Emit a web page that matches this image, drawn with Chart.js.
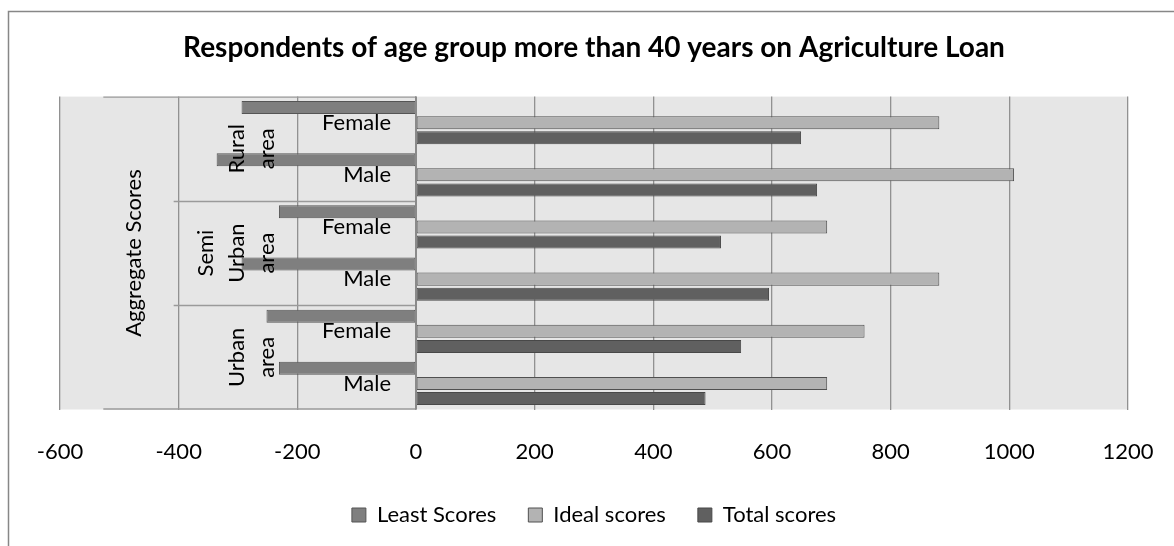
<!DOCTYPE html>
<html>
<head>
<meta charset="utf-8">
<title>Respondents of age group more than 40 years on Agriculture Loan</title>
<script src="https://cdn.jsdelivr.net/npm/chart.js@4.4.1/dist/chart.umd.min.js"></script>
<style>
  html, body { margin: 0; padding: 0; background: #ffffff; }
  #wrap { width: 1174px; height: 546px; position: relative; }
</style>
</head>
<body>
<div id="wrap"><canvas id="chart" width="1174" height="546"></canvas></div>
<script>
// ---- data ----
const chartTitle = 'Respondents of age group more than 40 years on Agriculture Loan';
const categories = ['Female', 'Male', 'Female', 'Male', 'Female', 'Male'];
const areaGroups = [['Rural', 'area'], ['Semi', 'Urban', 'area'], ['Urban', 'area']];
const axisGroupTitle = 'Aggregate Scores';
const seriesNames = ['Least Scores', 'Ideal scores', 'Total scores'];
const leastScores = [-294, -336, -231, -294, -252, -231];
const idealScores = [882, 1008, 693, 882, 756, 693];
const totalScores = [649, 676, 514, 595, 548, 488];
const xTicks = [-600, -400, -200, 0, 200, 400, 600, 800, 1000, 1200];

// ---- styling ----
const FONT = 'Lato';
const fills = ['#7f7f7f', '#b3b3b3', '#606060'];
const edges = ['#555555', '#505050', '#484848'];

// Page frame and grey plot panel behind everything
const framePanel = {
  id: 'framePanel',
  beforeDraw(chart) {
    const { ctx, chartArea: a, width, height } = chart;
    ctx.save();
    ctx.fillStyle = '#ffffff';
    ctx.fillRect(0, 0, width, height);
    ctx.strokeStyle = '#878787';
    ctx.lineWidth = 1.5;
    ctx.beginPath();
    ctx.moveTo(8.5, height);
    ctx.lineTo(8.5, 11.5);
    ctx.lineTo(width, 11.5);
    ctx.stroke();
    ctx.fillStyle = '#e6e6e6';
    ctx.fillRect(a.left, a.top, a.right - a.left, a.bottom - a.top);
    ctx.restore();
  }
};

// Multi-level category labels placed left of the zero line
const categoryLabels = {
  id: 'categoryLabels',
  afterDatasetsDraw(chart) {
    const { ctx, chartArea: a, scales: { x, y } } = chart;
    const x0 = x.getPixelForValue(0);
    ctx.save();

    // bracket lines of the label hierarchy
    ctx.strokeStyle = '#9a9a9a';
    ctx.lineWidth = 1.3;
    const outerLeft = x.getPixelForValue(-527);
    const innerLeft = x.getPixelForValue(-400) - 5;
    ctx.beginPath();
    ctx.moveTo(outerLeft, a.top + 0.5); ctx.lineTo(x0, a.top + 0.5);
    ctx.moveTo(outerLeft, a.bottom - 0.5); ctx.lineTo(x0, a.bottom - 0.5);
    for (let g = 1; g < areaGroups.length; g++) {
      const yb = Math.round((y.getPixelForValue(2 * g - 1) + y.getPixelForValue(2 * g)) / 2) + 0.5;
      ctx.moveTo(innerLeft, yb); ctx.lineTo(x0, yb);
    }
    ctx.stroke();

    // category axis at zero
    ctx.strokeStyle = '#8a8a8a';
    ctx.lineWidth = 2;
    ctx.beginPath();
    ctx.moveTo(x0, a.top); ctx.lineTo(x0, a.bottom);
    ctx.stroke();

    ctx.fillStyle = '#000000';
    ctx.font = '22px ' + FONT;

    // inner level: Female / Male
    ctx.textAlign = 'right';
    ctx.textBaseline = 'middle';
    categories.forEach((c, i) => ctx.fillText(c, x0 - 25, y.getPixelForValue(i)));

    // middle level: area groups, rotated
    ctx.textAlign = 'center';
    ctx.textBaseline = 'alphabetic';
    areaGroups.forEach((lines, g) => {
      const cy = (y.getPixelForValue(2 * g) + y.getPixelForValue(2 * g + 1)) / 2;
      const lastBase = x0 - 142;
      lines.forEach((t, k) => {
        const bx = lastBase - (lines.length - 1 - k) * 30.5;
        ctx.save();
        ctx.translate(bx, cy);
        ctx.rotate(-Math.PI / 2);
        ctx.fillText(t, 0, 0);
        ctx.restore();
      });
    });

    // outer level
    ctx.save();
    ctx.translate(a.left + 81, (a.top + a.bottom) / 2);
    ctx.rotate(-Math.PI / 2);
    ctx.fillText(axisGroupTitle, 0, 0);
    ctx.restore();

    ctx.restore();
  }
};

const seriesData = [leastScores, idealScores, totalScores];

new Chart(document.getElementById('chart'), {
  type: 'bar',
  data: {
    labels: categories,
    datasets: seriesNames.map((name, i) => ({
      label: name,
      data: seriesData[i],
      backgroundColor: fills[i],
      borderColor: edges[i],
      borderWidth: 1,
      borderSkipped: false,
      categoryPercentage: 0.87,
      barPercentage: 0.86
    }))
  },
  options: {
    indexAxis: 'y',
    responsive: false,
    animation: false,
    layout: { padding: { top: 11, left: 60, right: 46, bottom: 10 } },
    plugins: {
      title: {
        display: true,
        text: chartTitle,
        color: '#000000',
        font: { family: FONT, size: 28, weight: 'bold' },
        padding: { top: 20, bottom: 32 }
      },
      legend: {
        position: 'bottom',
        labels: {
          boxWidth: 14,
          boxHeight: 14,
          padding: 32,
          color: '#000000',
          font: { family: FONT, size: 22 }
        }
      },
      tooltip: { enabled: false }
    },
    scales: {
      x: {
        type: 'linear',
        min: -600,
        max: 1200,
        afterBuildTicks(scale) { scale.ticks = xTicks.map(v => ({ value: v })); },
        afterFit(scale) { scale.height = 62.5; },
        grid: { color: '#919191', lineWidth: 1.3, drawTicks: true, tickLength: 26, tickColor: 'rgba(0,0,0,0)' },
        border: { display: false },
        ticks: {
          padding: 3,
          color: '#000000',
          font: { family: FONT, size: 22 },
          callback: v => String(v)
        }
      },
      y: {
        display: false
      }
    }
  },
  plugins: [framePanel, categoryLabels]
});
</script>
</body>
</html>
